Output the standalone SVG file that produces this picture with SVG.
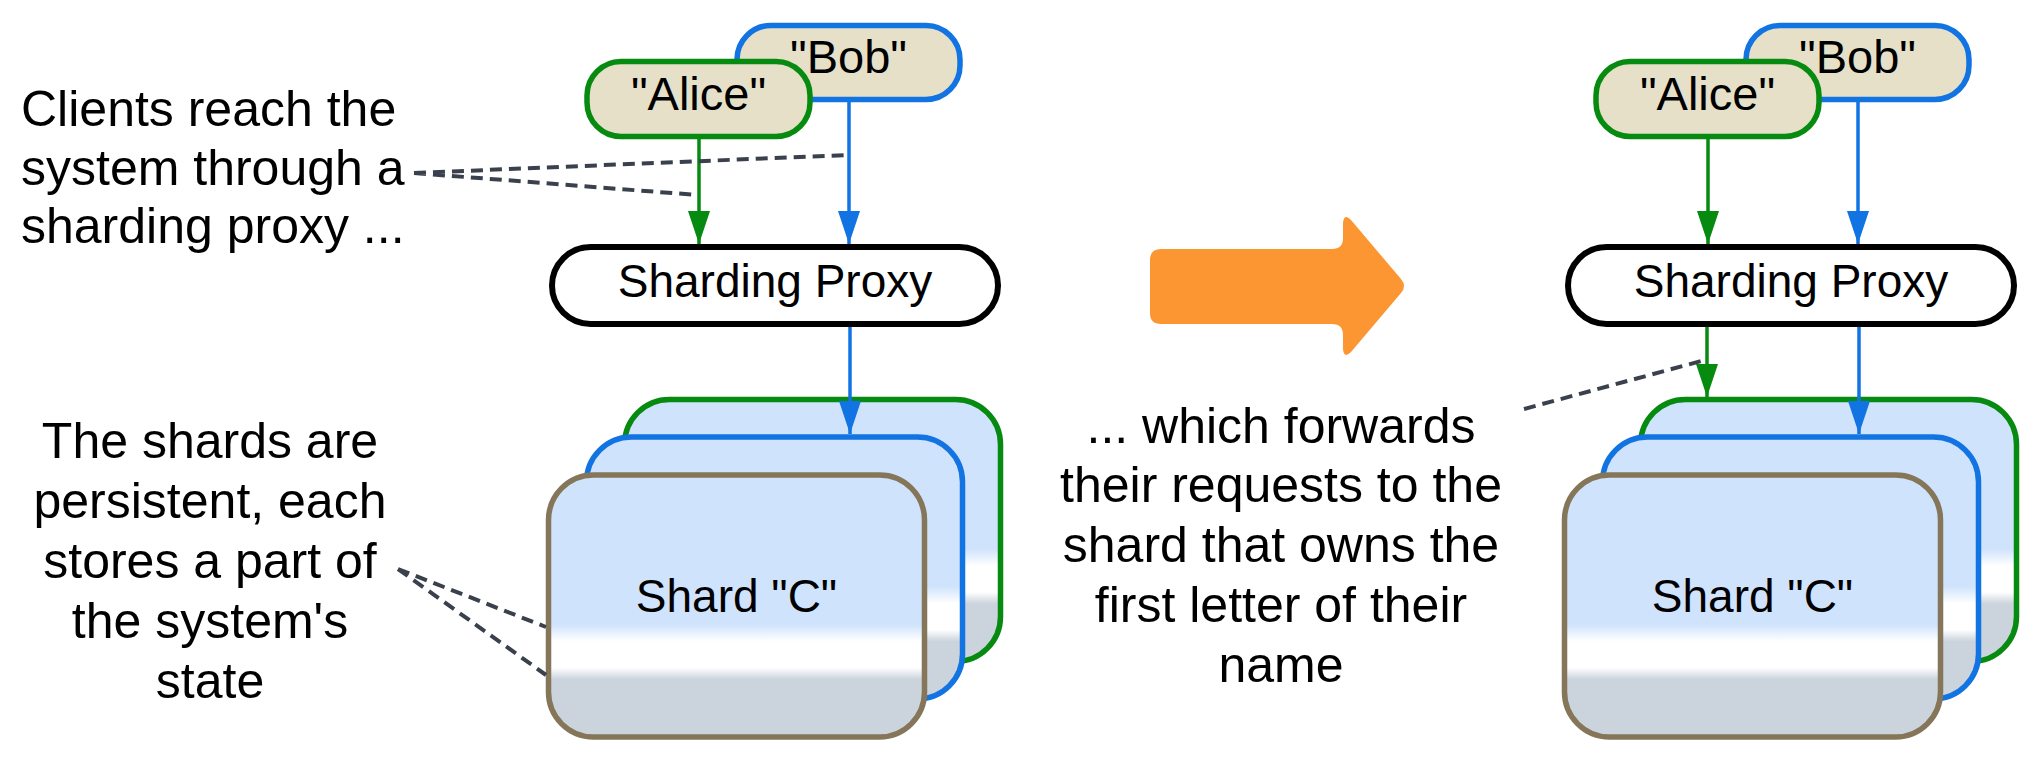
<svg xmlns="http://www.w3.org/2000/svg" width="2034" height="758" viewBox="0 0 2034 758">
<style>
  text { font-family: "Liberation Sans", Arial, sans-serif; fill: #000; }
  .note { font-size: 50px; }
  .lbl { font-size: 46px; text-anchor: middle; }
  .name { font-size: 47px; text-anchor: middle; }
  .client { fill: #e6e0c8; stroke-width: 5.5; }
  .proxy { fill: #fff; stroke: #000; stroke-width: 6; }
  .shard { fill: url(#shardFill); stroke-width: 5.5; }
  .g { stroke: #078a10; }
  .b { stroke: #1273e3; }
  .br { stroke: #85765a; }
  .edge { fill: none; stroke-width: 3.5; }
  .dash { fill: none; stroke: #3a414d; stroke-width: 4; stroke-dasharray: 12 7; }
</style>
<defs>
  <linearGradient id="shardFill" x1="0" y1="0" x2="0" y2="1">
    <stop offset="0" stop-color="#cfe3fc"/>
    <stop offset="0.57" stop-color="#cfe3fc"/>
    <stop offset="0.635" stop-color="#ffffff"/>
    <stop offset="0.735" stop-color="#ffffff"/>
    <stop offset="0.78" stop-color="#cbd3dc"/>
    <stop offset="1" stop-color="#cbd3dc"/>
  </linearGradient>
  <marker id="ahG" viewBox="0 0 33 22" refX="33" refY="11" markerWidth="33" markerHeight="22" markerUnits="userSpaceOnUse" orient="auto">
    <path d="M0,0 L33,11 L0,22 Z" fill="#078a10"/>
  </marker>
  <marker id="ahB" viewBox="0 0 33 22" refX="33" refY="11" markerWidth="33" markerHeight="22" markerUnits="userSpaceOnUse" orient="auto">
    <path d="M0,0 L33,11 L0,22 Z" fill="#1273e3"/>
  </marker>
</defs>
<rect width="2034" height="758" fill="#fff"/>

<!-- Left annotations -->
<g id="note-clients">
  <text class="note" x="21" y="126">Clients reach the</text>
  <text class="note" x="21" y="185">system through a</text>
  <text class="note" x="21" y="243">sharding proxy ...</text>
</g>
<g id="note-shards">
  <text class="note" text-anchor="middle" x="210" y="458">The shards are</text>
  <text class="note" text-anchor="middle" x="210" y="518">persistent, each</text>
  <text class="note" text-anchor="middle" x="210" y="578">stores a part of</text>
  <text class="note" text-anchor="middle" x="210" y="638">the system's</text>
  <text class="note" text-anchor="middle" x="210" y="698">state</text>
</g>

<!-- Left diagram -->
<g id="left-bob">
  <rect class="client b" x="737" y="25.5" width="223" height="74" rx="34"/>
  <text class="name" x="848.5" y="73">"Bob"</text>
</g>
<g id="left-alice">
  <rect class="client g" x="587" y="61.5" width="223" height="75" rx="34"/>
  <text class="name" x="698.5" y="110">"Alice"</text>
</g>
<g id="left-proxy">
  <rect class="proxy" x="552" y="247" width="446" height="77" rx="38.5"/>
  <text class="lbl" x="775" y="297">Sharding Proxy</text>
</g>
<g id="left-shard-a">
  <rect class="shard g" x="624.5" y="399.5" width="376" height="262" rx="45"/>
</g>
<g id="left-shard-b">
  <rect class="shard b" x="586.5" y="437" width="376" height="262" rx="45"/>
</g>
<g id="left-shard-c">
  <rect class="shard br" x="548.5" y="475" width="376" height="262" rx="45"/>
  <text class="lbl" x="736.5" y="612">Shard "C"</text>
</g>

<!-- Transition arrow -->
<g id="transition-arrow">
  <path d="M1161,249 L1332,249 Q1343,249 1343,238 L1343,223 Q1344,213 1351,220 L1401,279 Q1407,286 1401,293 L1351,352 Q1344,359 1343,349 L1343,335 Q1343,324 1332,324 L1161,324 Q1150,324 1150,313 L1150,260 Q1150,249 1161,249 Z" fill="#fb9632"/>
</g>

<!-- Right annotation -->
<g id="note-forward">
  <text class="note" text-anchor="middle" x="1281" y="443">... which forwards</text>
  <text class="note" text-anchor="middle" x="1281" y="502">their requests to the</text>
  <text class="note" text-anchor="middle" x="1281" y="562">shard that owns the</text>
  <text class="note" text-anchor="middle" x="1281" y="622">first letter of their</text>
  <text class="note" text-anchor="middle" x="1281" y="682">name</text>
</g>

<!-- Right diagram -->
<g id="right-bob">
  <rect class="client b" x="1746" y="25.5" width="223" height="74" rx="34"/>
  <text class="name" x="1857.5" y="73">"Bob"</text>
</g>
<g id="right-alice">
  <rect class="client g" x="1596" y="61.5" width="223" height="75" rx="34"/>
  <text class="name" x="1707.5" y="110">"Alice"</text>
</g>
<g id="right-proxy">
  <rect class="proxy" x="1568" y="247" width="446" height="77" rx="38.5"/>
  <text class="lbl" x="1791" y="297">Sharding Proxy</text>
</g>
<g id="right-shard-a">
  <rect class="shard g" x="1640.5" y="399.5" width="376" height="262" rx="45"/>
</g>
<g id="right-shard-b">
  <rect class="shard b" x="1602.5" y="437" width="376" height="262" rx="45"/>
</g>
<g id="right-shard-c">
  <rect class="shard br" x="1564.5" y="475" width="376" height="262" rx="45"/>
  <text class="lbl" x="1752.5" y="612">Shard "C"</text>
</g>

<!-- Connectors -->
<g id="connectors">
  <line class="edge g" x1="699" y1="138" x2="699" y2="244" marker-end="url(#ahG)"/>
  <line class="edge b" x1="849" y1="101" x2="849" y2="244" marker-end="url(#ahB)"/>
  <line class="edge b" x1="850" y1="327" x2="850" y2="434" marker-end="url(#ahB)"/>
  <line class="edge g" x1="1708" y1="138" x2="1708" y2="244" marker-end="url(#ahG)"/>
  <line class="edge b" x1="1858" y1="101" x2="1858" y2="244" marker-end="url(#ahB)"/>
  <line class="edge g" x1="1707" y1="327" x2="1707" y2="397" marker-end="url(#ahG)"/>
  <line class="edge b" x1="1859" y1="327" x2="1859" y2="434" marker-end="url(#ahB)"/>
  <path class="dash" d="M414,173 L847,155 M414,173 L697,195"/>
  <path class="dash" d="M398,569 L546,627 M398,569 L546,675"/>
  <path class="dash" d="M1524,409 L1705,360"/>
</g>
</svg>
